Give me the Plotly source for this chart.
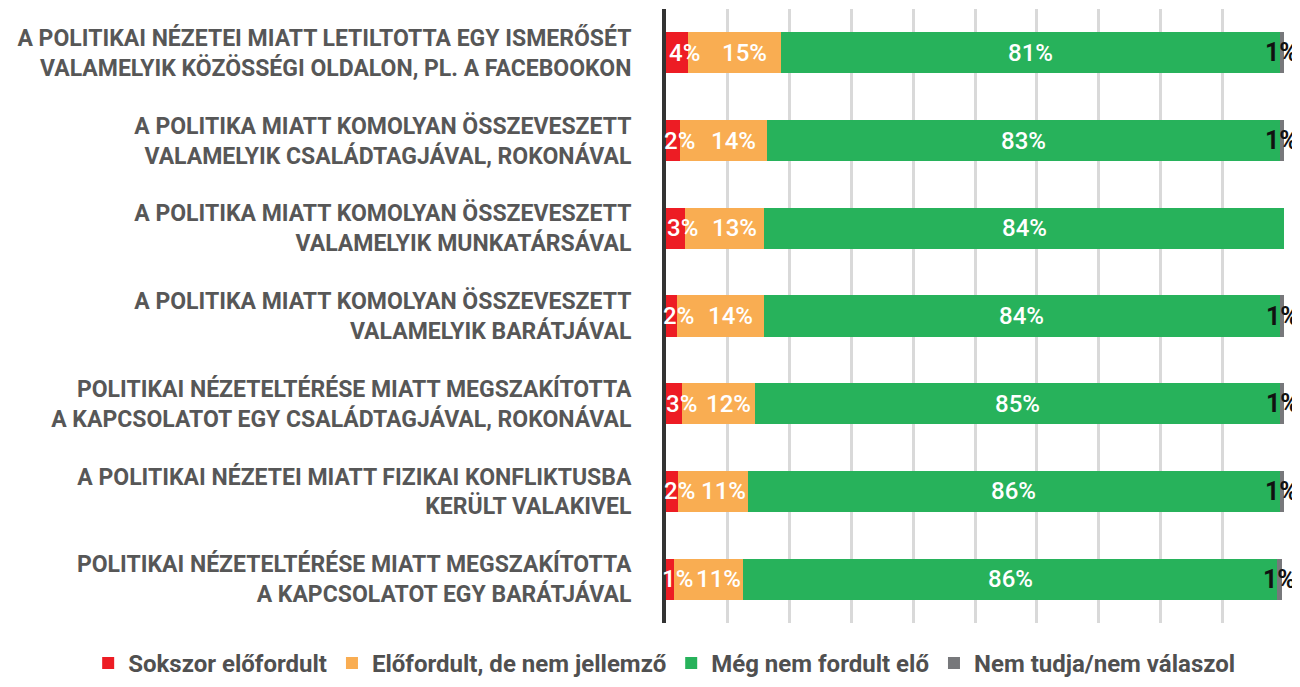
import plotly.graph_objects as go

categories = [
    "A POLITIKAI NÉZETEI MIATT LETILTOTTA EGY ISMERŐSÉT<br>VALAMELYIK KÖZÖSSÉGI OLDALON, PL. A FACEBOOKON",
    "A POLITIKA MIATT KOMOLYAN ÖSSZEVESZETT<br>VALAMELYIK CSALÁDTAGJÁVAL, ROKONÁVAL",
    "A POLITIKA MIATT KOMOLYAN ÖSSZEVESZETT<br>VALAMELYIK MUNKATÁRSÁVAL",
    "A POLITIKA MIATT KOMOLYAN ÖSSZEVESZETT<br>VALAMELYIK BARÁTJÁVAL",
    "POLITIKAI NÉZETELTÉRÉSE MIATT MEGSZAKÍTOTTA<br>A KAPCSOLATOT EGY CSALÁDTAGJÁVAL, ROKONÁVAL",
    "A POLITIKAI NÉZETEI MIATT FIZIKAI KONFLIKTUSBA<br>KERÜLT VALAKIVEL",
    "POLITIKAI NÉZETELTÉRÉSE MIATT MEGSZAKÍTOTTA<br>A KAPCSOLATOT EGY BARÁTJÁVAL",
]

series_names = ["Sokszor előfordult", "Előfordult, de nem jellemző", "Még nem fordult elő", "Nem tudja/nem válaszol"]
sokszor = [3.6, 2.2, 3.0, 1.8, 2.6, 2.0, 1.3]
elofordult = [15.0, 14.2, 12.9, 14.0, 11.8, 11.3, 11.2]
meg_nem = [80.7, 82.9, 84.1, 83.6, 85.0, 86.0, 86.4]
nem_tudja = [0.7, 0.7, 0.0, 0.6, 0.6, 0.7, 0.7]

colors = ["#ed1c24", "#f9ad52", "#27b25b", "#77787b"]
label_colors = ["white", "white", "white", "#111111"]
label_weights = [500, 500, 500, "bold"]
label_sizes = [24, 24, 24, 25]
label_shift = [7, 10, 0, 0]

series = [sokszor, elofordult, meg_nem, nem_tudja]

fig = go.Figure()
for name, vals, col in zip(series_names, series, colors):
    fig.add_trace(go.Bar(
        y=categories, x=vals, name=name, orientation="h",
        marker=dict(color=col, line=dict(width=0)),
        hoverinfo="x+name",
    ))

# data labels, positioned at segment centres computed from the data
annotations = []
for i, cat in enumerate(categories):
    cum = 0.0
    for s, vals in enumerate(series):
        v = vals[i]
        if v > 0:
            annotations.append(dict(
                x=cum + v / 2, y=cat, xref="x", yref="y",
                text=f"{round(v):d}%", showarrow=False,
                xshift=label_shift[s],
                font=dict(family="Roboto", size=label_sizes[s], color=label_colors[s],
                          weight=label_weights[s]),
            ))
        cum += v

fig.update_layout(
    barmode="stack",
    bargap=0.53,
    width=1292, height=679,
    margin=dict(l=658, r=16, t=1, b=55),
    paper_bgcolor="white", plot_bgcolor="white",
    showlegend=True,
    legend=dict(
        orientation="h", x=-0.935, xanchor="left", y=-0.066, yanchor="middle",
        font=dict(family="Roboto", size=24, color="#505050", weight="bold"),
        itemsizing="constant", traceorder="normal", itemwidth=30,
    ),
    xaxis=dict(
        range=[0, 100], dtick=10, showgrid=True, gridcolor="#d9d9d9", gridwidth=3,
        showticklabels=False, zeroline=False, showline=False, fixedrange=True,
    ),
    yaxis=dict(
        autorange="reversed", showgrid=False, showline=True, linecolor="#333333",
        linewidth=4, ticks="", ticklabelstandoff=26,
        tickfont=dict(family="Roboto", size=23, color="#575757", weight="bold"),
    ),
    annotations=annotations,
)

fig.write_html("out.html")
